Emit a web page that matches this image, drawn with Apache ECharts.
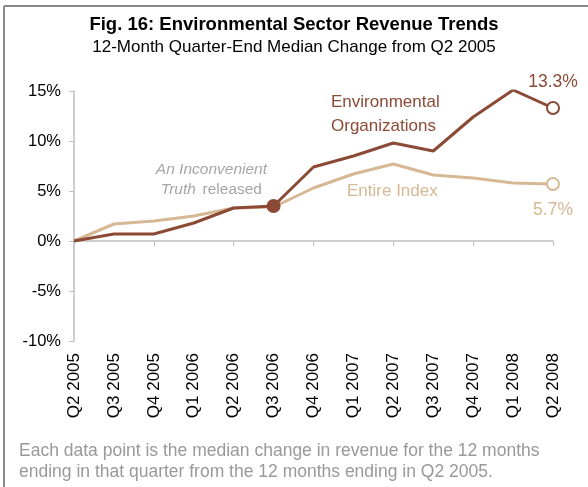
<!DOCTYPE html>
<html>
<head>
<meta charset="utf-8">
<script src="https://cdn.jsdelivr.net/npm/echarts@6/dist/echarts.min.js"></script>
<style>
  html, body { margin: 0; padding: 0; background: #fff; }
  #chart { width: 588px; height: 487px; }
</style>
</head>
<body>
<div id="chart"></div>
<script>
  // categories and series values (percent change from Q2 2005)
  const quarters = ['Q2 2005', 'Q3 2005', 'Q4 2005', 'Q1 2006', 'Q2 2006', 'Q3 2006', 'Q4 2006',
    'Q1 2007', 'Q2 2007', 'Q3 2007', 'Q4 2007', 'Q1 2008', 'Q2 2008']
  const envOrgs = [0, 0.7, 0.7, 1.8, 3.3, 3.5, 7.4, 8.5, 9.8, 9.0, 12.4, 15.1, 13.3]
  const entireIndex = [0, 1.7, 2.0, 2.5, 3.3, 3.4, 5.3, 6.7, 7.7, 6.6, 6.3, 5.8, 5.7]
  const yTicks = [-10, -5, 0, 5, 10, 15]
  const releaseIdx = 5 // An Inconvenient Truth released

  const BROWN = '#8B4A36'
  const TAN = '#D6B895'
  const GREY = '#BFBFBF'
  const FONT = 'Liberation Sans, Arial, sans-serif'

  // 节点样式：最后一个点空心圆，发布点实心圆
  function buildData (vals, color, lastLabelPos) {
    return vals.map((v, i) => {
      const item = { value: v }
      if (i === vals.length - 1) {
        item.symbol = 'circle'
        item.symbolSize = 12
        item.itemStyle = { color: '#fff', borderColor: color, borderWidth: 2 }
        item.label = {
          show: true,
          position: lastLabelPos,
          distance: 10,
          formatter: '{c}%',
          color: color,
          fontSize: 17.5,
          fontFamily: FONT
        }
      }
      return item
    })
  }

  const envData = buildData(envOrgs, BROWN, 'top')
  envData[releaseIdx].symbol = 'circle'
  envData[releaseIdx].symbolSize = 14
  envData[releaseIdx].itemStyle = { color: BROWN }

  const chart = echarts.init(document.getElementById('chart'))
  chart.setOption({
    animation: false,
    title: {
      left: 'center',
      top: 10,
      itemGap: 5,
      text: 'Fig. 16: Environmental Sector Revenue Trends',
      subtext: '12-Month Quarter-End Median Change from Q2 2005',
      textStyle: { fontFamily: FONT, fontSize: 18.5, fontWeight: 'bold', color: '#000' },
      subtextStyle: { fontFamily: FONT, fontSize: 17, color: '#000' }
    },
    grid: { left: 74, right: 35, top: 91, bottom: 146, containLabel: false },
    xAxis: [{
      type: 'category',
      boundaryGap: false,
      data: quarters,
      axisLine: { onZero: true, lineStyle: { color: GREY, width: 1.5 } },
      axisTick: { show: true, length: 5, lineStyle: { color: GREY } },
      axisLabel: { show: false },
      splitLine: { show: false }
    }, {
      type: 'category',
      boundaryGap: false,
      position: 'bottom',
      data: quarters,
      axisLine: { show: false, onZero: false },
      axisTick: { show: false },
      axisLabel: { rotate: 90, margin: 12, fontSize: 17, color: '#000', fontFamily: FONT, interval: 0 }
    }],
    yAxis: {
      type: 'value',
      min: yTicks[0],
      max: yTicks[yTicks.length - 1],
      interval: 5,
      axisLine: { show: true, lineStyle: { color: GREY, width: 1.5 } },
      axisTick: { show: true, length: 5, lineStyle: { color: GREY } },
      splitLine: { show: false },
      axisLabel: { formatter: '{value}%', fontSize: 16.5, color: '#000', fontFamily: FONT, margin: 13 }
    },
    series: [{
      name: 'Entire Index',
      type: 'line',
      xAxisIndex: 0,
      symbol: 'none',
      showSymbol: true,
      lineStyle: { color: TAN, width: 3 },
      itemStyle: { color: TAN },
      data: buildData(entireIndex, TAN, 'bottom')
    }, {
      name: 'Environmental Organizations',
      type: 'line',
      xAxisIndex: 0,
      symbol: 'none',
      showSymbol: true,
      lineStyle: { color: BROWN, width: 3 },
      itemStyle: { color: BROWN },
      data: envData
    }],
    graphic: [
      { type: 'line', shape: { x1: 4, y1: 6, x2: 588, y2: 6 }, style: { stroke: '#888', lineWidth: 2 } },
      { type: 'line', shape: { x1: 4, y1: 6, x2: 4, y2: 487 }, style: { stroke: '#888', lineWidth: 2 } },
      {
        type: 'text', left: 331, top: 90,
        style: { text: 'Environmental\nOrganizations', fill: BROWN, font: '17px ' + FONT, lineHeight: 24 }
      },
      {
        type: 'text', left: 347, top: 183,
        style: { text: 'Entire Index', fill: TAN, font: '17px ' + FONT }
      },
      {
        type: 'text', right: 588 - 267, top: 162,
        style: {
          text: '{i|An Inconvenient}\n{i|Truth}  {n|released}',
          align: 'right',
          rich: {
            i: { fontStyle: 'italic', fontSize: 15.5, fontFamily: FONT, fill: '#A6A6A6', lineHeight: 20, align: 'right' },
            n: { fontSize: 15.5, fontFamily: FONT, fill: '#A6A6A6', lineHeight: 20 }
          }
        }
      },
      {
        type: 'text', left: 19, top: 441,
        style: {
          text: 'Each data point is the median change in revenue for the 12 months\nending in that quarter from the 12 months ending in Q2 2005.',
          fill: '#999', font: '17.5px ' + FONT, lineHeight: 21
        }
      }
    ]
  })
</script>
</body>
</html>
